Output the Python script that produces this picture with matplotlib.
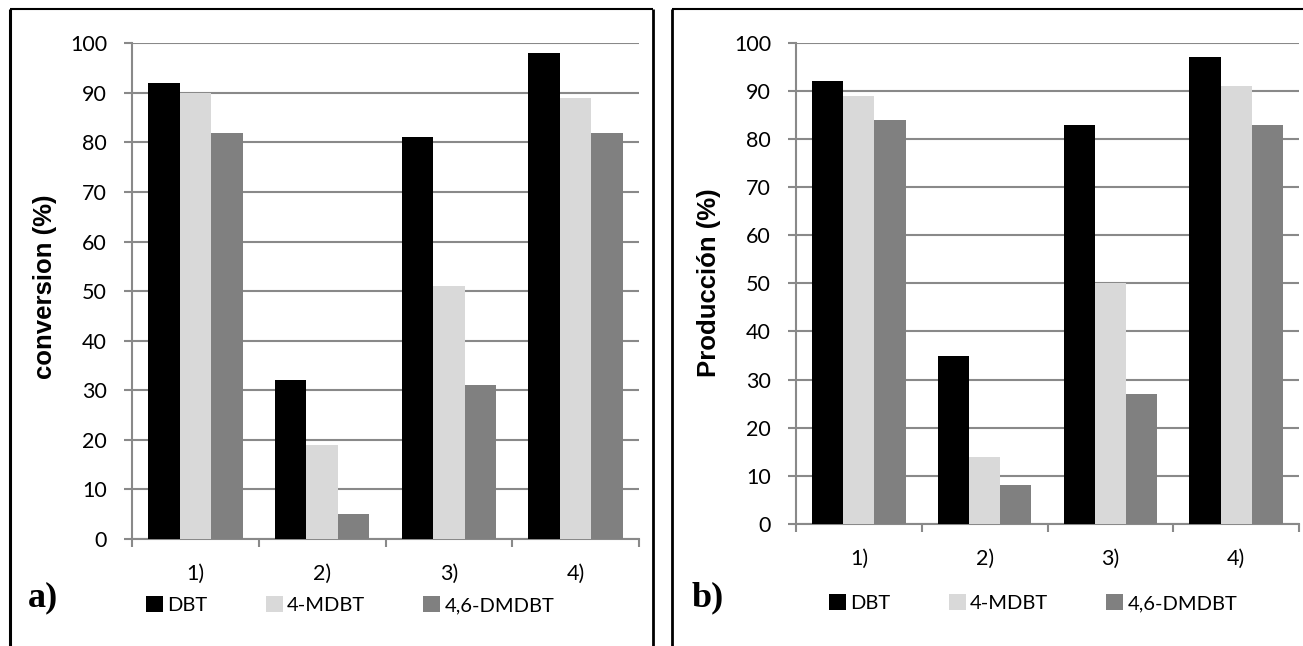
import matplotlib
matplotlib.use("Agg")
import matplotlib.pyplot as plt
from matplotlib.lines import Line2D
from matplotlib.patches import Patch
import numpy as np

categories = ["1)", "2)", "3)", "4)"]
series_names = ["DBT", "4-MDBT", "4,6-DMDBT"]
series_colors = ["#000000", "#d9d9d9", "#808080"]

conv_dbt = [92, 32, 81, 98]
conv_mdbt = [90, 19, 51, 89]
conv_dmdbt = [82, 5, 31, 82]

prod_dbt = [92, 35, 83, 97]
prod_mdbt = [89, 14, 50, 91]
prod_dmdbt = [84, 8, 27, 83]

yticks = [0, 10, 20, 30, 40, 50, 60, 70, 80, 90, 100]

W, H = 1303, 646
fig = plt.figure(figsize=(W / 100, H / 100), dpi=100)

GRID = "#898989"
TICKFONT = "Lato"
FS = 15.5
LFS = 14.5


def px(x0, y0, x1, y1):
    return [x0 / W, 1 - y1 / H, (x1 - x0) / W, (y1 - y0) / H]


def panel(rect, data, ylabel, ylabel_x, ylabel_y, letter, letter_x, legend_x, legend_y):
    ax = fig.add_axes(rect)
    x = np.arange(len(categories))
    w = 0.248
    for k, (vals, col, name) in enumerate(zip(data, series_colors, series_names)):
        ax.bar(x + (k - 1) * w, vals, width=w, color=col, label=name, zorder=3)
    ax.set_xlim(-0.5, len(categories) - 0.5)
    ax.set_ylim(0, 100)
    ax.set_yticks(yticks)
    ax.set_yticklabels([str(v) for v in yticks], fontfamily=TICKFONT, fontsize=FS)
    ax.yaxis.grid(True, color=GRID, linewidth=1.5, zorder=0)
    ax.set_xticks(x)
    ax.set_xticklabels(categories, fontfamily=TICKFONT, fontsize=FS)
    ax.set_xticks(np.arange(-0.5, len(categories)), minor=True)
    ax.tick_params(axis="x", which="major", length=0, pad=18)
    ax.tick_params(axis="x", which="minor", length=6, width=1.5, color=GRID, direction="out")
    ax.tick_params(axis="y", length=6, width=1.5, color=GRID, direction="out", pad=12)
    for s in ["top", "right"]:
        ax.spines[s].set_visible(False)
    for s in ["left", "bottom"]:
        ax.spines[s].set_color(GRID)
        ax.spines[s].set_linewidth(1.5)
    fig.text(ylabel_x / W, 1 - ylabel_y / H, ylabel, rotation=90, ha="center", va="center",
             fontfamily="Liberation Sans", fontweight="bold", fontsize=18.5)
    fig.text(letter_x / W, 1 - 598 / H, letter, ha="left", va="center",
             fontfamily="Liberation Serif", fontweight="bold", fontsize=26)
    handles = [Patch(facecolor=c, edgecolor="none") for c in series_colors]
    fig.legend(handles, series_names, loc="center", bbox_to_anchor=(legend_x / W, 1 - legend_y / H),
               ncol=3, frameon=False, prop={"family": TICKFONT, "size": LFS},
               handlelength=0.85, handleheight=0.85, handletextpad=0.2, columnspacing=2.9,
               borderpad=0, borderaxespad=0)
    return ax


panel(px(132, 43.3, 639, 539), [conv_dbt, conv_mdbt, conv_dmdbt], "conversion (%)", 45, 287,
      "a)", 28, 350, 605)
panel(px(796, 42.7, 1299, 524), [prod_dbt, prod_mdbt, prod_dmdbt], "Producción (%)", 709, 283,
      "b)", 692, 1033, 603)


def fline(xs, ys, lw=1.5, color="black"):
    fig.add_artist(Line2D([v / W for v in xs], [1 - v / H for v in ys], color=color, lw=lw,
                          transform=fig.transFigure, solid_capstyle="butt"))

fline([10, 10], [9, 646], lw=2.2)
fline([10, 652.7], [9.3, 9.3])
fline([652.7, 652.7], [9.3, 646], lw=2.0)
fline([671.7, 671.7], [9.3, 646], lw=2.0)
fline([671.7, 1303], [9.3, 9.3])

fig.savefig("out.png", dpi=100)
